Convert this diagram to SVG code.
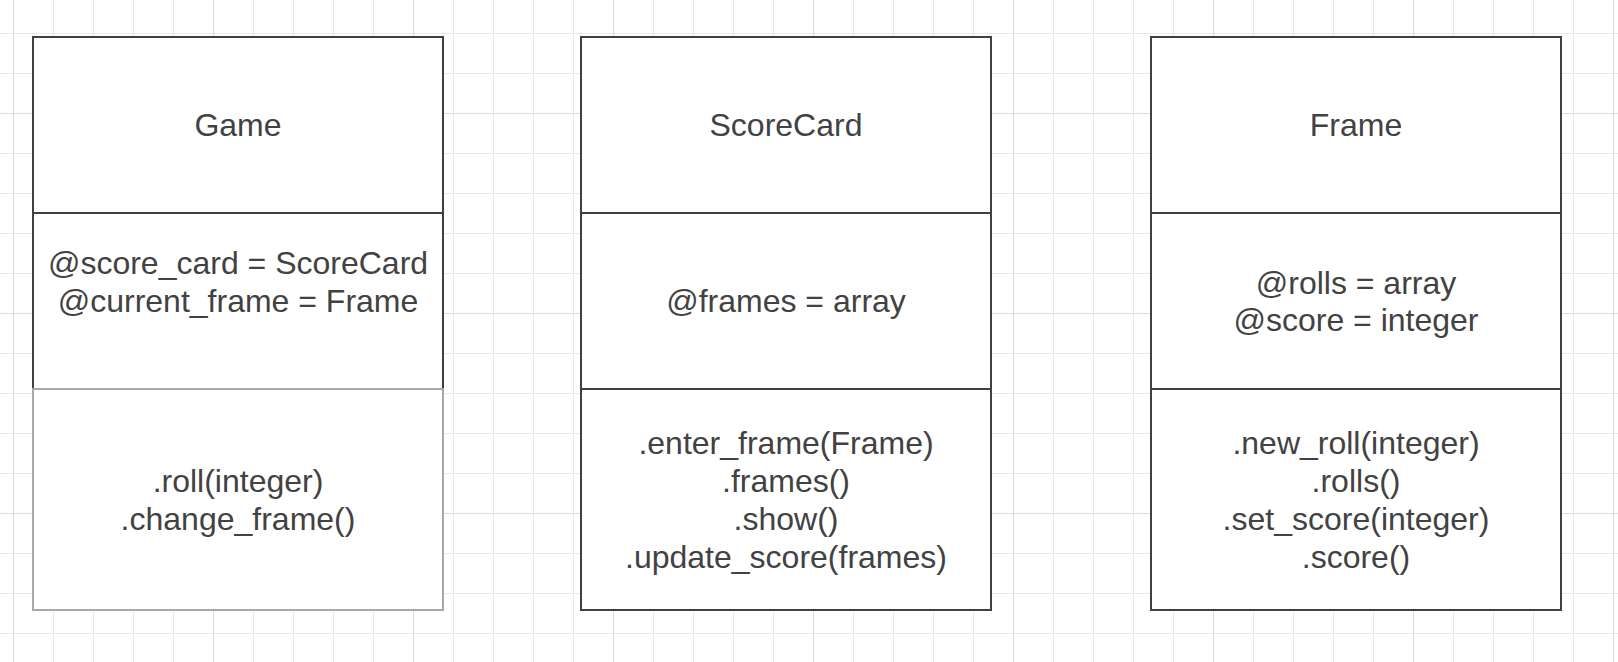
<svg xmlns="http://www.w3.org/2000/svg" width="1618" height="662" viewBox="0 0 1618 662">
  <style>
    .sec { fill: #ffffff; stroke: #404040; stroke-width: 2; }
    .sec-light { fill: #ffffff; stroke: #a8a8a8; stroke-width: 2; }
    .lbl { font-family: "Liberation Sans", Arial, Helvetica, sans-serif; font-size: 32px; fill: #424242; text-anchor: middle; }
  </style>
  <defs>
    <pattern id="minor" patternUnits="userSpaceOnUse" x="13" y="33" width="40" height="40">
      <path d="M0.5 0V40M0 0.5H40" fill="none" stroke="#e9e9e9" stroke-width="1"/>
    </pattern>
    <pattern id="major" patternUnits="userSpaceOnUse" x="13" y="113" width="200" height="200">
      <path d="M0.5 0V200M0 0.5H200" fill="none" stroke="#dcdcdc" stroke-width="1"/>
    </pattern>
  </defs>
  <rect x="0" y="0" width="1618" height="662" fill="#ffffff"/>
  <rect x="0" y="0" width="1618" height="662" fill="url(#minor)"/>
  <rect x="0" y="0" width="1618" height="662" fill="url(#major)"/>

  <g id="connectors"></g>

  <g id="game">
    <rect class="sec" x="33" y="37" width="410" height="176"/>
    <rect class="sec" x="33" y="213" width="410" height="176"/>
    <rect class="sec-light" x="33" y="389" width="410" height="221"/>
    <text class="lbl" x="238" y="136">Game</text>
    <text class="lbl" x="238" y="274.2">@score_card = ScoreCard</text>
    <text class="lbl" x="238" y="312">@current_frame = Frame</text>
    <text class="lbl" x="238" y="492.4">.roll(integer)</text>
    <text class="lbl" x="238" y="530.2">.change_frame()</text>
  </g>

  <g id="scorecard">
    <rect class="sec" x="581" y="37" width="410" height="176"/>
    <rect class="sec" x="581" y="213" width="410" height="176"/>
    <rect class="sec" x="581" y="389" width="410" height="221"/>
    <text class="lbl" x="786" y="136">ScoreCard</text>
    <text class="lbl" x="786" y="312">@frames = array</text>
    <text class="lbl" x="786" y="454.3">.enter_frame(Frame)</text>
    <text class="lbl" x="786" y="492.1">.frames()</text>
    <text class="lbl" x="786" y="529.9">.show()</text>
    <text class="lbl" x="786" y="567.7">.update_score(frames)</text>
  </g>

  <g id="frame">
    <rect class="sec" x="1151" y="37" width="410" height="176"/>
    <rect class="sec" x="1151" y="213" width="410" height="176"/>
    <rect class="sec" x="1151" y="389" width="410" height="221"/>
    <text class="lbl" x="1356" y="136">Frame</text>
    <text class="lbl" x="1356" y="293.6">@rolls = array</text>
    <text class="lbl" x="1356" y="331.4">@score = integer</text>
    <text class="lbl" x="1356" y="454.3">.new_roll(integer)</text>
    <text class="lbl" x="1356" y="492.1">.rolls()</text>
    <text class="lbl" x="1356" y="529.9">.set_score(integer)</text>
    <text class="lbl" x="1356" y="567.7">.score()</text>
  </g>
</svg>
